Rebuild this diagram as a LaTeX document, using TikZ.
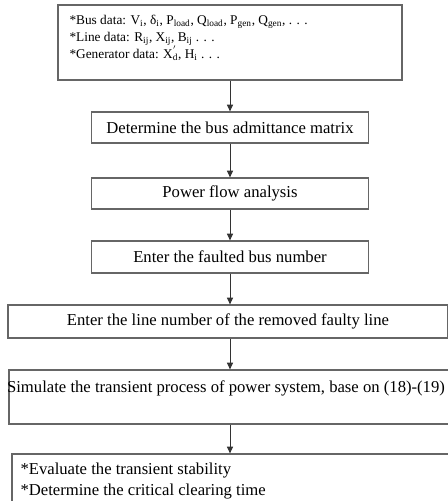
\documentclass[tikz,border=0pt]{standalone}
\usepackage{fontspec}
\setmainfont{Liberation Serif}
\usetikzlibrary{arrows.meta}

\tikzset{every picture/.style={line width=0.75pt}}
\tikzset{
  flowbox/.style={draw=black!60, line width=0.9pt, rectangle, inner sep=0pt},
  flowtext/.style={inner sep=0pt, font=\fontsize{12.5}{12.5}\selectfont},
  flowarrow/.style={draw=black!80, line width=0.75pt, -{Triangle[length=5pt,width=4.5pt]}},
}

\begin{document}
\begin{tikzpicture}[x=0.75pt,y=0.75pt,yscale=-1,xscale=1]
\clip (0,0) rectangle (448,501);

%Shape: Rectangle [input data]
\node [flowbox, minimum width=258pt, minimum height=56.25pt] (busdata) at (230,42.5) {};
%Shape: Rectangle [admittance]
\node [flowbox, minimum width=207.5pt, minimum height=23.25pt] (admit) at (230,127.5) {};
%Shape: Rectangle [power flow]
\node [flowbox, minimum width=207.5pt, minimum height=23.25pt] (pflow) at (230,193.5) {};
%Shape: Rectangle [faulted bus]
\node [flowbox, minimum width=207.5pt, minimum height=24pt] (fbus) at (230,257) {};
%Shape: Rectangle [faulty line]
\node [flowbox, minimum width=330pt, minimum height=24.75pt] (fline) at (228,321.5) {};
%Shape: Rectangle [simulation]
\node [flowbox, minimum width=331.5pt, minimum height=40.5pt] (simul) at (230,397) {};
%Shape: Rectangle [evaluation]
\node [flowbox, minimum width=330pt, minimum height=49.5pt] (evalbox) at (232,487) {};

%Straight Lines
\draw [flowarrow] (busdata.south) -- (admit.north);
\draw [flowarrow] (admit.south) -- (pflow.north);
\draw [flowarrow] (pflow.south) -- (fbus.north);
\draw [flowarrow] (fbus.south) -- (fline.north -| fbus.south);
\draw [flowarrow] (fline.south -| fbus.south) -- (simul.north);
\draw [flowarrow] (simul.south) -- (evalbox.north -| simul.south);

% Text Node
\node [inner sep=0pt, anchor=north west, align=left, font=\fontsize{10}{12.75}\selectfont] (busdatatxt) at (69,14.5) {*Bus data: V\textsubscript{i}, δ\textsubscript{i}, P\textsubscript{load}, Q\textsubscript{load}, P\textsubscript{gen}, Q\textsubscript{gen}, . . .\\*Line data: R\textsubscript{ij}, X\textsubscript{ij}, B\textsubscript{ij} . . .\\*Generator data: X\rlap{\textsuperscript{$'$}}\textsubscript{d}, H\textsubscript{i} . . .};
% Text Node
\node [flowtext] (admittxt) at (admit.center) {Determine the bus admittance matrix};
% Text Node
\node [flowtext] (pflowtxt) at (pflow.center) {Power flow analysis};
% Text Node
\node [flowtext] (fbustxt) at (fbus.center) {Enter the faulted bus number};
% Text Node
\node [flowtext] (flinetxt) at (fline.center) {Enter the line number of the removed faulty line};
% Text Node
\node [flowtext] (simultxt) at (226,388) {Simulate the transient process of power system, base on (18)-(19)};
% Text Node
\node [flowtext, anchor=north west, align=left, font=\fontsize{12.5}{16}\selectfont] (evaltxt) at (20,462) {*Evaluate the transient stability\\*Determine the critical clearing time};

\end{tikzpicture}
\end{document}
